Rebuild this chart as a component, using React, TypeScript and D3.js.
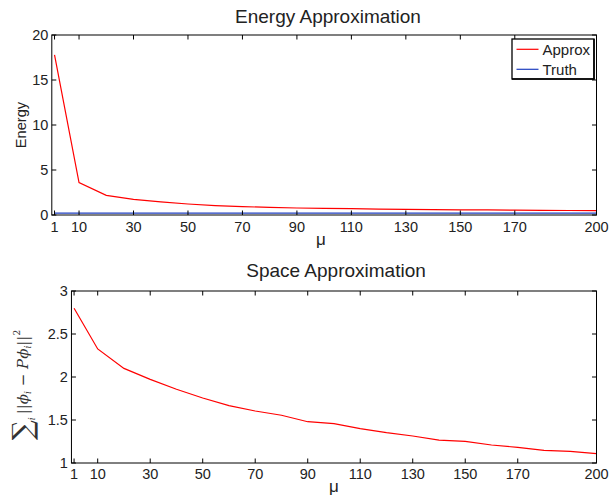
import React from "react";
import * as d3 from "d3";

const muValues = [1, 10, 20, 30, 40, 50, 60, 70, 80, 90, 100, 110, 120, 130, 140, 150, 160, 170, 180, 190, 200];
const energyApprox = [17.8, 3.6, 2.18, 1.74, 1.45, 1.22, 1.05, 0.93, 0.85, 0.78, 0.74, 0.7, 0.66, 0.63, 0.6, 0.58, 0.56, 0.54, 0.52, 0.5, 0.48];
const energyTruth = [0.2, 0.2, 0.2, 0.2, 0.2, 0.2, 0.2, 0.2, 0.2, 0.2, 0.2, 0.2, 0.2, 0.2, 0.2, 0.2, 0.2, 0.2, 0.2, 0.2, 0.2];
const spaceApprox = [2.8, 2.326, 2.1, 1.973, 1.857, 1.756, 1.667, 1.605, 1.555, 1.48, 1.457, 1.4, 1.353, 1.314, 1.267, 1.252, 1.209, 1.182, 1.147, 1.135, 1.108];
const xTicks = [1, 10, 30, 50, 70, 90, 110, 130, 150, 170, 200];
const energyTicks = [0, 5, 10, 15, 20];
const spaceTicks = [1, 1.5, 2, 2.5, 3];
const legendLabels = ["Approx", "Truth"];

const FONT = "'Liberation Sans', Arial, Helvetica, sans-serif";
const RED = "#ff0000";
const BLUE = "#1f3fbf";

type Series = { values: number[]; color: string };

function Axes(props: {
  x0: number; x1: number; y0: number; y1: number;
  yDomain: [number, number]; yTicks: number[];
  series: Series[]; title: string; titleX: number; titleY: number;
  xLabelY: number; tickLabelY: number; xLabelX: number;
  yFmt: (v: number) => string;
}) {
  const { x0, x1, y0, y1, yDomain, yTicks, series } = props;
  const x = d3.scaleLinear().domain([0, 200]).range([x0, x1]);
  const y = d3.scaleLinear().domain(yDomain).range([y1, y0]);
  const line = d3.line<number>().x((_, i) => x(muValues[i])).y((d) => y(d));
  const tl = 4.5;
  return (
    <g>
      <rect x={x0} y={y0} width={x1 - x0} height={y1 - y0} fill="#fff" />
      {series.map((s, i) => (
        <path key={i} d={line(s.values) || ""} fill="none" stroke={s.color} strokeWidth={1.2} />
      ))}
      <rect x={x0} y={y0} width={x1 - x0} height={y1 - y0} fill="none" stroke="#000" strokeWidth={1} />
      {xTicks.map((t) => (
        <g key={"xt" + t}>
          <line x1={x(t)} x2={x(t)} y1={y1} y2={y1 - tl} stroke="#000" strokeWidth={1} />
          <line x1={x(t)} x2={x(t)} y1={y0} y2={y0 + tl} stroke="#000" strokeWidth={1} />
          <text x={x(t)} y={props.tickLabelY} textAnchor="middle" fontSize={14.5} fontFamily={FONT} fill="#222">{t}</text>
        </g>
      ))}
      {yTicks.map((t) => (
        <g key={"yt" + t}>
          <line x1={x0} x2={x0 + tl} y1={y(t)} y2={y(t)} stroke="#000" strokeWidth={1} />
          <line x1={x1} x2={x1 - tl} y1={y(t)} y2={y(t)} stroke="#000" strokeWidth={1} />
          <text x={x0 - 3.5} y={y(t)} dy="0.36em" textAnchor="end" fontSize={14.5} fontFamily={FONT} fill="#222">{props.yFmt(t)}</text>
        </g>
      ))}
      <text x={props.titleX} y={props.titleY} textAnchor="middle" fontSize={19} fontFamily={FONT} fill="#222">{props.title}</text>
      <text x={props.xLabelX} y={props.xLabelY} textAnchor="middle" fontSize={17} fontFamily={FONT} fill="#222">μ</text>
    </g>
  );
}

export default function App() {
  const fmt = (v: number) => String(v);
  return (
    <svg width={610} height={503} style={{ position: "absolute", left: 0, top: 0, background: "#fff" }}>
      <rect x={0} y={0} width={610} height={503} fill="#fff" />
      <Axes
        x0={51.8} x1={596.5} y0={35} y1={215}
        yDomain={[0, 20]} yTicks={energyTicks}
        series={[{ values: energyTruth, color: BLUE }, { values: energyApprox, color: RED }]}
        title="Energy Approximation" titleX={328} titleY={22.5}
        xLabelX={321} xLabelY={244.5} tickLabelY={232}
        yFmt={fmt}
      />
      <text transform="translate(25.5,125) rotate(-90)" textAnchor="middle" fontSize={14.6} fontFamily={FONT} fill="#222">Energy</text>
      <g>
        <rect x={512} y={39} width={82} height={40} fill="#fff" stroke="#000" strokeWidth={1.3} />
        <line x1={594} x2={594} y1={39} y2={79.5} stroke="#000" strokeWidth={1.5} />
        <line x1={512} x2={594.5} y1={79} y2={79} stroke="#000" strokeWidth={1.5} />
        {legendLabels.map((l, i) => (
          <g key={l}>
            <line x1={516.5} x2={538.5} y1={49.3 + i * 20} y2={49.3 + i * 20} stroke={i === 0 ? RED : BLUE} strokeWidth={1.2} />
            <text x={542.5} y={55 + i * 19.5} fontSize={15} fontFamily={FONT} fill="#222">{l}</text>
          </g>
        ))}
      </g>
      <Axes
        x0={71.45} x1={596.5} y0={291} y1={463}
        yDomain={[1, 3]} yTicks={spaceTicks}
        series={[{ values: spaceApprox, color: RED }]}
        title="Space Approximation" titleX={336} titleY={276.7}
        xLabelX={334} xLabelY={492} tickLabelY={479}
        yFmt={fmt}
      />
      <g transform="translate(28,385) rotate(-90)" fill="#333">
        <text textAnchor="middle" fontFamily="'DejaVu Serif', 'Liberation Serif', serif" fontSize={15}>
          <tspan fontSize={28} dy="4">∑</tspan>
          <tspan fontSize={9} fontStyle="italic" dy="3">i</tspan>
          <tspan dy="-7" dx="3">||</tspan>
          <tspan fontStyle="italic">ϕ</tspan>
          <tspan fontSize={9} fontStyle="italic" dy="3">i</tspan>
          <tspan dy="-3"> − </tspan>
          <tspan fontStyle="italic">Pϕ</tspan>
          <tspan fontSize={9} fontStyle="italic" dy="3">i</tspan>
          <tspan dy="-3">||</tspan>
          <tspan fontSize={9} dy="-8">2</tspan>
        </text>
      </g>
    </svg>
  );
}
